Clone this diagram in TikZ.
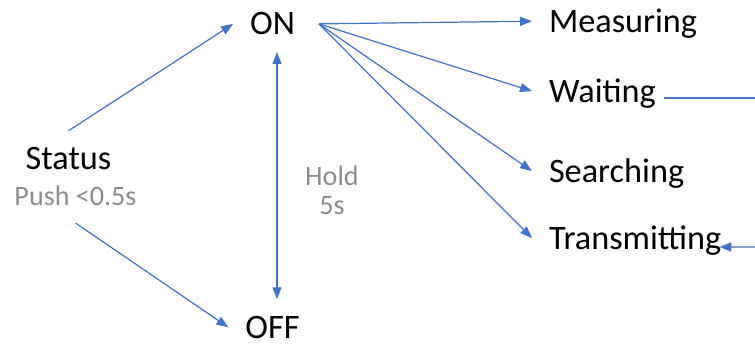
\documentclass[tikz,border=0pt]{standalone}
\usepackage{fontspec}
\setmainfont{Carlito}
\usetikzlibrary{arrows.meta}
\definecolor{Office}{HTML}{4472C4}
\definecolor{Grey60}{HTML}{8C8C8C}

\begin{document}
\begin{tikzpicture}[
    state/.style={inner sep=0pt, outer sep=0.34cm, text depth=0pt, anchor=base, font=\fontsize{19.5}{22}\selectfont},
    mode/.style={state, anchor=base west},
    note/.style={inner sep=0pt, outer sep=0.34cm, align=center, anchor=base, text=Grey60, font=\fontsize{16}{17}\selectfont},
    arr/.style={->, >={Triangle[length=2.4mm, width=1.8mm]}, line width=0.7pt, color=Office},
    wire/.style={line width=0.7pt, color=Office}
]
\useasboundingbox (0,0) rectangle (15.1,6.9);

% Button
\node[state] (status) at (1.37,3.50) {Status};
\node[note, text depth=0pt] (push) at (1.51,2.78) {Push <0.5s};

% Power states
\node[state] (on) at (5.45,6.20) {ON};
\node[state] (off) at (5.45,0.13) {OFF};
\node[note] (hold) at (6.64,2.60) {Hold\\5s};

% Modes
\node[mode] (meas) at (10.64,6.24) {Measuring};
\node[mode] (wait) at (10.64,4.84) {Waiting};
\node[mode] (search) at (10.64,3.24) {Searching};
\node[mode] (trans) at (10.64,1.90) {Transmitting};

% Loop leaving the picture
\coordinate (wout) at (15.1,4.94);
\coordinate (tin) at (15.1,1.96);

% Arrows
\draw[arr] (status.north) -- (on.west);
\draw[arr] (push.south) -- (off.west);
\draw[arr, <->] ([xshift=0.09cm]on.south) -- ([xshift=0.09cm]off.north);
\draw[arr] ([xshift=0.14cm]on.east) -- (meas.west);
\draw[arr] ([xshift=0.14cm]on.east) -- (wait.west);
\draw[arr] ([xshift=0.14cm]on.east) -- (search.west);
\draw[arr] ([xshift=0.14cm]on.east) -- (trans.west);
\draw[wire] ([shift={(-0.18,0.10)}]wait.base east) -- (wout);
\draw[arr] (tin) -- ([shift={(-0.38,0.06)}]trans.base east);

\end{tikzpicture}
\end{document}
